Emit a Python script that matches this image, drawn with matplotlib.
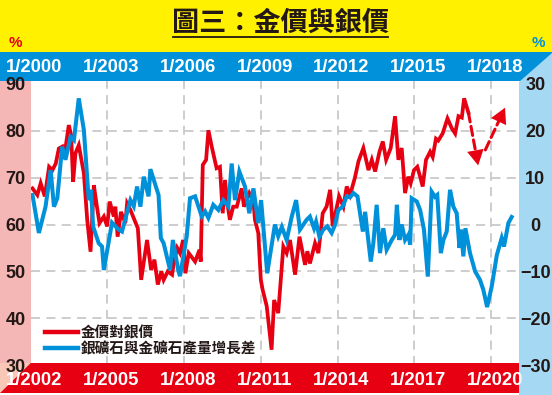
import matplotlib
matplotlib.use("Agg")
import matplotlib.pyplot as plt
from matplotlib.patches import Polygon, Rectangle
from matplotlib.lines import Line2D
from matplotlib.transforms import blended_transform_factory

plt.rcParams['font.family'] = ['Liberation Sans', 'Noto Sans CJK TC', 'DejaVu Sans']

# gold/silver price ratio, dated on the bottom (red) axis
ratio_t = [2002.07, 2002.26, 2002.39, 2002.55, 2002.72, 2002.85, 2002.98, 2003.10, 2003.23, 2003.30,
           2003.49, 2003.58, 2003.66, 2003.75, 2003.88, 2004.08, 2004.21, 2004.34, 2004.47, 2004.57,
           2004.69, 2004.86, 2004.99, 2005.09, 2005.25, 2005.31, 2005.40, 2005.53, 2005.70, 2005.77,
           2005.90, 2006.19, 2006.32, 2006.55, 2006.71, 2006.84, 2006.97, 2007.11, 2007.20, 2007.36,
           2007.53, 2007.60, 2007.73, 2007.84, 2007.96, 2008.05, 2008.18, 2008.43, 2008.60, 2008.65,
           2008.73, 2008.86, 2008.95, 2009.08, 2009.27, 2009.40, 2009.51, 2009.60, 2009.69, 2009.79,
           2009.92, 2010.06, 2010.25, 2010.34, 2010.55, 2010.71, 2010.77, 2010.90, 2011.00, 2011.07,
           2011.23, 2011.42, 2011.52, 2011.68, 2011.88, 2012.01, 2012.14, 2012.34, 2012.51, 2012.73,
           2012.82, 2012.92, 2013.12, 2013.25, 2013.42, 2013.57, 2013.71, 2013.81, 2014.06, 2014.23,
           2014.36, 2014.49, 2014.68, 2014.82, 2015.01, 2015.21, 2015.34, 2015.47, 2015.64, 2015.77,
           2015.90, 2016.08, 2016.25, 2016.38, 2016.51, 2016.64, 2016.77, 2016.86, 2016.99, 2017.12,
           2017.23, 2017.33, 2017.46, 2017.62, 2017.72, 2017.85, 2017.94, 2018.11, 2018.30, 2018.47,
           2018.60, 2018.73, 2018.86, 2018.95, 2019.12]
ratio_v = [67.7, 66.3, 68.8, 66.0, 72.3, 71.6, 73.0, 76.2, 76.6, 74.1,
           81.2, 79.1, 69.1, 75.2, 76.9, 70.9, 61.0, 54.2, 68.4, 64.5,
           60.3, 61.7, 59.6, 64.9, 61.7, 63.8, 57.4, 62.7, 60.3, 64.5,
           63.1, 59.2, 48.2, 56.7, 50.3, 52.5, 47.2, 50.0, 48.2, 50.0,
           49.3, 52.1, 55.0, 53.9, 56.7, 49.6, 53.9, 52.1, 54.6, 52.1,
           72.7, 73.8, 80.1, 76.6, 72.0, 72.3, 62.4, 69.5, 64.5, 61.0,
           63.8, 63.8, 67.7, 63.8, 66.7, 65.0, 61.0, 58.2, 48.2, 46.1,
           42.6, 33.3, 43.9, 41.1, 55.3, 53.9, 56.7, 49.3, 57.4, 51.4,
           54.3, 51.7, 56.0, 53.9, 62.4, 63.8, 67.4, 59.6, 66.0, 63.8,
           68.1, 66.3, 70.0, 73.5, 76.3, 71.6, 73.8, 71.3, 75.5, 77.7,
           73.8, 76.3, 83.1, 73.8, 76.3, 66.7, 70.2, 68.8, 71.6, 72.3,
           70.2, 68.1, 73.8, 75.5, 74.4, 78.3, 77.9, 79.4, 82.6, 80.5,
           79.4, 83.1, 82.8, 86.9, 83.8]

# silver ore minus gold ore output growth, dated on the top (blue) axis
diff_t = [2000.07, 2000.32, 2000.58, 2000.78, 2000.91, 2001.04, 2001.23, 2001.36, 2001.56, 2001.69,
          2001.88, 2002.08, 2002.27, 2002.36, 2002.44, 2002.66, 2002.79, 2002.86, 2003.18, 2003.44,
          2003.57, 2003.90, 2004.03, 2004.16, 2004.29, 2004.42, 2004.61, 2004.68, 2005.00, 2005.09,
          2005.20, 2005.45, 2005.56, 2005.78, 2005.84, 2006.10, 2006.23, 2006.43, 2006.69, 2006.82,
          2006.95, 2007.14, 2007.34, 2007.53, 2007.73, 2007.86, 2007.99, 2008.16, 2008.38, 2008.55,
          2008.71, 2008.90, 2009.01, 2009.25, 2009.55, 2009.68, 2009.82, 2010.01, 2010.21, 2010.38,
          2010.53, 2010.79, 2010.92, 2011.08, 2011.16, 2011.29, 2011.44, 2011.60, 2011.77, 2011.90,
          2012.03, 2012.20, 2012.36, 2012.49, 2012.62, 2012.78, 2012.88, 2012.99, 2013.08, 2013.17,
          2013.30, 2013.40, 2013.53, 2013.66, 2013.79, 2013.92, 2014.12, 2014.25, 2014.32, 2014.42,
          2014.51, 2014.64, 2014.77, 2014.84, 2014.90, 2015.10, 2015.23, 2015.38, 2015.53, 2015.68,
          2015.81, 2015.90, 2016.04, 2016.14, 2016.27, 2016.40, 2016.53, 2016.66, 2016.77, 2016.83,
          2016.92, 2017.00, 2017.18, 2017.38, 2017.57, 2017.70, 2017.85, 2018.03, 2018.23, 2018.42,
          2018.51, 2018.68, 2018.81]
diff_v = [6.3, -1.8, 3.8, 11.6, 3.8, 5.6, 16.6, 13.8, 18.7, 18.0,
          26.9, 20.1, 5.2, 7.4, -0.4, -4.0, -4.7, -9.7, 0.4, -1.1,
          -1.5, 5.2, 3.9, 8.1, 3.8, 10.2, 6.0, 11.8, 6.3, -2.9,
          -4.0, -9.7, -3.3, -10.0, -11.0, -2.6, 5.6, 6.0, 1.7, 2.8,
          1.4, 4.2, 3.1, 5.2, 3.8, 13.0, 5.2, 11.3, 8.1, 2.4,
          7.7, 0.3, 5.2, -10.4, 0.0, -2.5, -0.5, -3.3, 1.7, 5.2,
          -1.1, 1.0, 1.7, -0.8, 0.6, -2.6, -1.1, -0.4, -1.8, -0.1,
          3.1, 3.8, 6.0, 5.8, 6.7, 6.0, 2.4, -1.5, 2.7, -1.8,
          -7.9, -4.0, 4.2, -6.1, -0.8, -5.4, -3.3, -2.2, 4.2, -3.3,
          0.0, -3.3, -2.2, -4.3, 5.6, 4.9, 3.1, -1.1, -11.1, 7.0,
          5.9, 6.3, -6.1, -3.3, -1.5, 7.4, 3.8, 2.4, -5.0, -1.1,
          -6.8, -0.8, -6.1, -10.0, -11.8, -13.9, -17.6, -13.2, -6.5, -2.9,
          -4.7, 0.3, 1.6]

# dashed "forecast" arrows on the ratio series (bottom-axis dates)
arrow_down = ((2019.12, 83.8), (2019.50, 72.6))
arrow_up = ((2019.78, 75.9), (2020.55, 84.9))

top_years = [2000, 2003, 2006, 2009, 2012, 2015, 2018]
bottom_years = [2002, 2005, 2008, 2011, 2014, 2017, 2020]
left_ticks = [30, 40, 50, 60, 70, 80, 90]
grid_levels = [40, 50, 60, 70, 80]
right_ticks = [30, 20, 10, 0, -10, -20, -30]
legend_labels = ['金價對銀價', '銀礦石與金礦石產量增長差']
title = '圖三：金價與銀價'

RED = '#E60012'
BLUE = '#0091DA'
YELLOW = '#FFF100'
INK = '#231815'
GRID = '#C9C9C9'
LAG = 2  # bottom axis runs two years ahead of the top axis

W, H = 552, 395
fig = plt.figure(figsize=(W / 100, H / 100), dpi=100, facecolor='white')

# background frame, in pixel units
bg = fig.add_axes([0, 0, 1, 1], zorder=0)
bg.set_xlim(0, W)
bg.set_ylim(H, 0)
bg.axis('off')
bg.add_patch(Rectangle((0, 0), W, 52, color=YELLOW, lw=0))
bg.add_patch(Rectangle((0, 52), W, 29, color=BLUE, lw=0))
bg.add_patch(Rectangle((0, 81), 30.7, 282, color='#F5B6B6', lw=0))
bg.add_patch(Polygon([(519, 82), (W, 53), (W, H), (519, H)], closed=True, color='#A5D9F3', lw=0))
bg.add_patch(Polygon([(0, 363), (30.7, 363), (0, 393)], closed=True, color='#F8C7B6', lw=0))
bg.add_patch(Polygon([(0, 393), (30.7, 363), (519, 363), (519, 393)], closed=True, color=RED, lw=0))

ttl = bg.text(280, 23, title, ha='center', va='center', fontsize=19.5, weight='bold',
              family=['Noto Sans CJK TC', 'DejaVu Sans'], color=INK)
bg.text(15, 43, '%', ha='center', va='center', fontsize=11, weight='bold', color=RED)
bg.text(538, 43, '%', ha='center', va='center', fontsize=11, weight='bold', color=BLUE)

# main axes (left / red), white area from y=81 down to the 30 level
x0 = 2000
x1 = x0 + (519 - 30.7) / 25.57
ax = fig.add_axes([30.7 / W, (H - 365.2) / H, (519 - 30.7) / W, (365.2 - 81) / H], zorder=1)
ax.patch.set_visible(False)
ax.set_xlim(x0, x1)
ax.set_ylim(30, 90.6)
for s in ax.spines.values():
    s.set_visible(False)
ax.set_xticks([])
ax.set_yticks(left_ticks)
ax.tick_params(axis='y', length=0, pad=3.6, labelsize=13, labelcolor=INK)
for lbl in ax.get_yticklabels():
    lbl.set_fontweight('bold')

# dashed grid, kept inside the white plotting area
clip = Rectangle((30.7, H - 363), 519 - 30.7, 363 - 81, transform=None)
grid_lines = [ax.axvline(y, color=GRID, ls=(0, (5, 3.5)), lw=1.3, zorder=1) for y in top_years if y > x0]
grid_lines += [ax.axhline(v, color=GRID, ls=(0, (5, 3.5)), lw=1.3, zorder=1) for v in grid_levels]
for gl in grid_lines:
    gl.set_clip_path(clip)

ax.plot([t - LAG for t in ratio_t], ratio_v, color=RED, lw=2.7, solid_joinstyle='miter', zorder=3)
for (xa, ya), (xb, yb) in (arrow_down, arrow_up):
    # dashed shaft stopping at the head, then a solid filled head
    ax.annotate('', xy=(xb - LAG, yb), xytext=(xa - LAG, ya),
                arrowprops=dict(arrowstyle='-', color=RED, lw=2.2, ls=(0, (3, 1.5)),
                                shrinkA=0, shrinkB=9), zorder=3)
    ax.annotate('', xy=(xb - LAG, yb), xytext=(xa - LAG, ya),
                arrowprops=dict(arrowstyle='-|>,head_length=1.1,head_width=0.6', color=RED,
                                lw=0, shrinkA=0, shrinkB=0, mutation_scale=10), zorder=3)

# right axes (blue)
ax2 = ax.twinx()
ax2.set_zorder(2)
ax2.patch.set_visible(False)
ax2.set_ylim(-30, 30.6)
for s in ax2.spines.values():
    s.set_visible(False)
ax2.set_yticks(right_ticks)
ax2.tick_params(axis='y', length=0, pad=11.8, labelsize=13, labelcolor=INK)
for lbl in ax2.get_yticklabels():
    lbl.set_fontweight('bold')
    lbl.set_horizontalalignment('center')
ax2.plot(diff_t, diff_v, color=BLUE, lw=2.9, solid_joinstyle='miter', zorder=3)

handles = [Line2D([], [], color=RED, lw=3.2), Line2D([], [], color=BLUE, lw=3.2)]
leg = ax2.legend(handles, legend_labels, loc='upper left', bbox_to_anchor=(0.029, 0.145),
                 frameon=False, handlelength=2.3, handletextpad=0.15, labelspacing=0.0,
                 borderpad=0, borderaxespad=0,
                 prop={'family': ['Noto Sans CJK TC', 'DejaVu Sans'], 'size': 10.5, 'weight': 'bold'})
for txt in leg.get_texts():
    txt.set_color(INK)

# date labels in the coloured bars
trans = blended_transform_factory(ax.transData, fig.transFigure)
for y in top_years:
    ax.text(y + 0.15, (H - 67.5) / H, '1/%d' % y, transform=trans, ha='center', va='center',
            fontsize=13.3, weight='bold', color='white', clip_on=False)
for y in bottom_years:
    ax.text(y - LAG + 0.15, (H - 380.5) / H, '1/%d' % y, transform=trans, ha='center',
            va='center', fontsize=13.3, weight='bold', color='white', clip_on=False)

# underline the title
fig.canvas.draw()
bb = ttl.get_window_extent().transformed(bg.transData.inverted())
bg.plot([bb.x0 + 1, bb.x1 - 1], [36.5, 36.5], color=INK, lw=1.3)

fig.savefig('out.png', dpi=100, facecolor='white')
